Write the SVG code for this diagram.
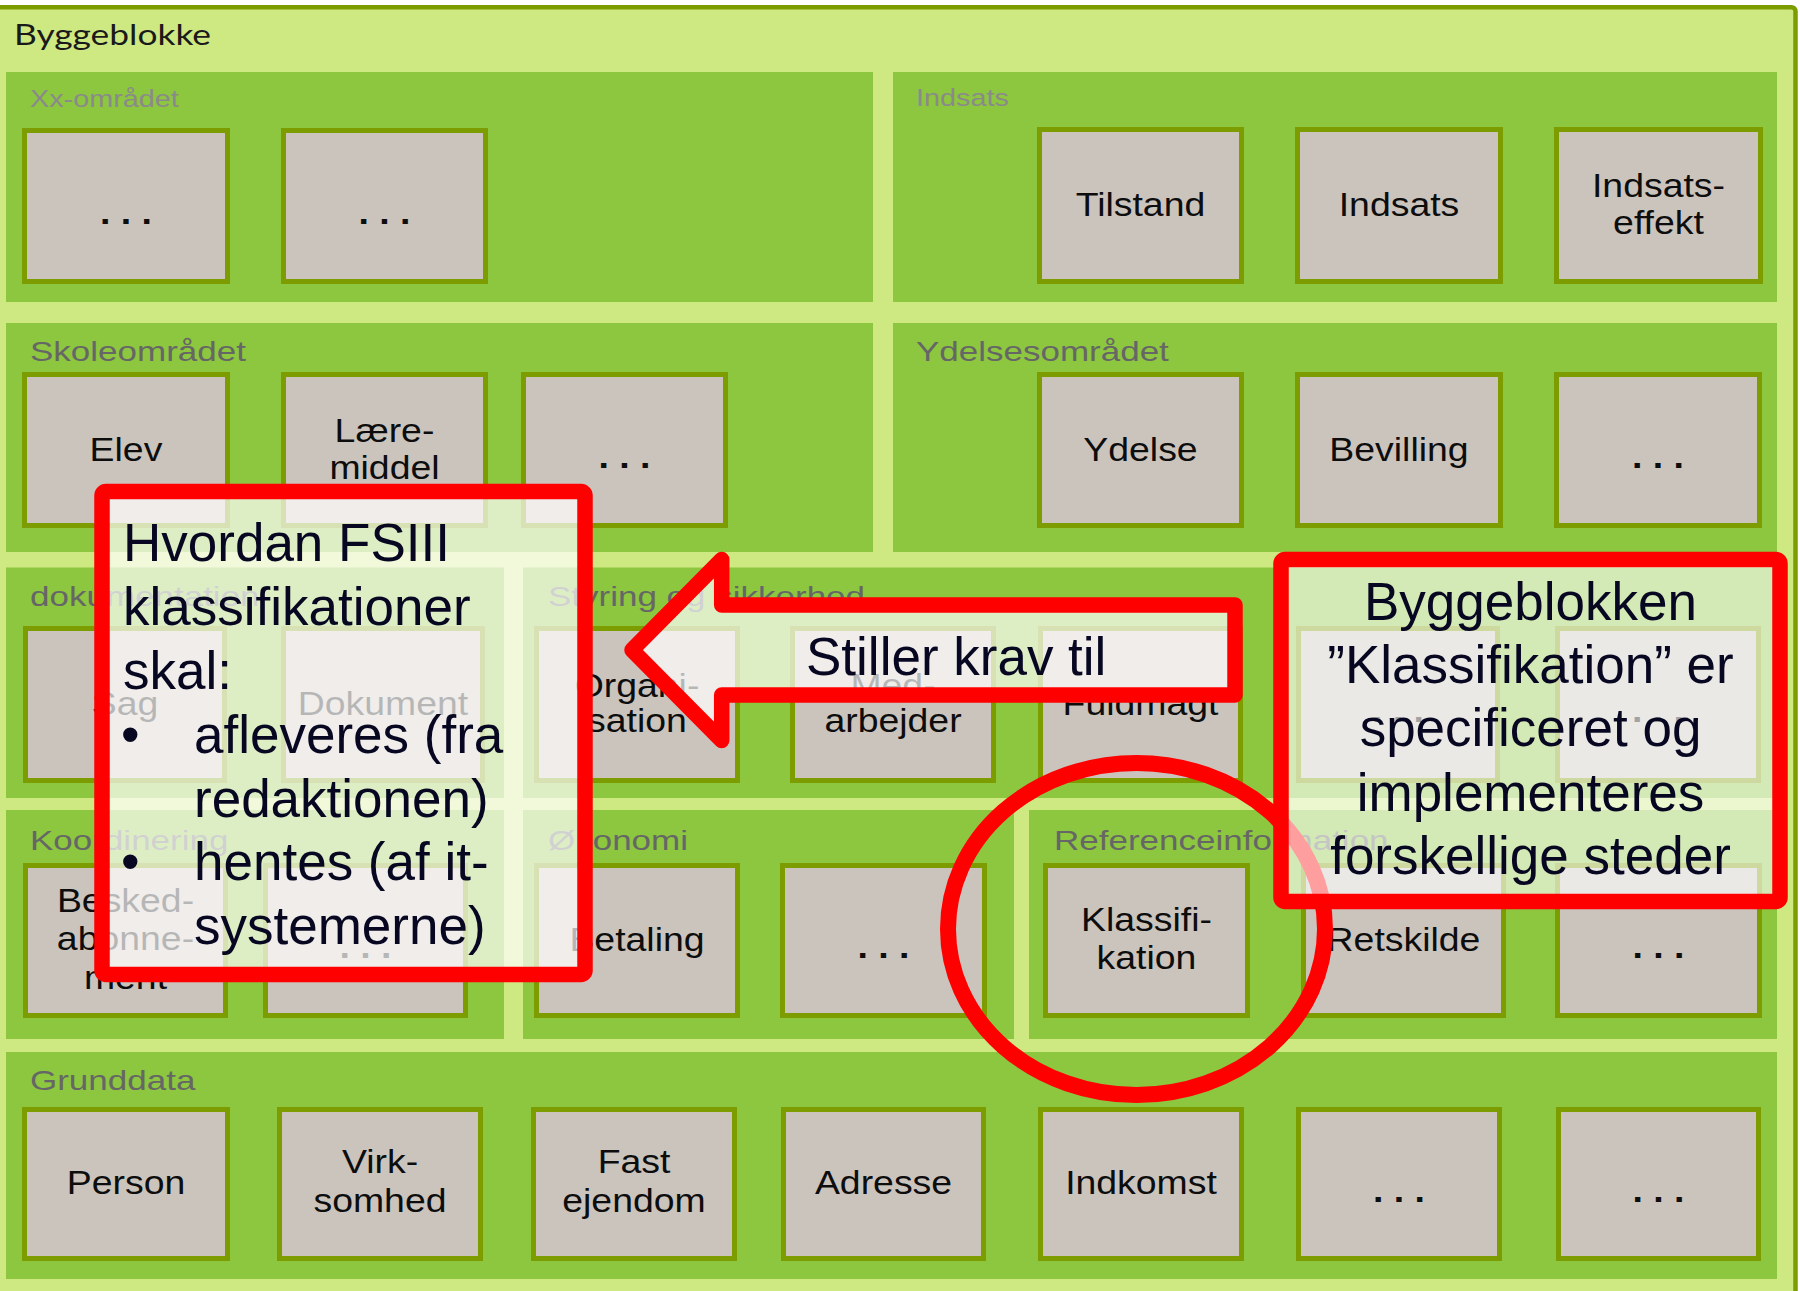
<svg xmlns="http://www.w3.org/2000/svg" width="1800" height="1291" viewBox="0 0 1800 1291">
<style>
.frame{fill:#CFE982;stroke:#7C9C00;stroke-width:4.5}
.panel{fill:#8DC63F}
.box rect{fill:#CBC4BD;stroke:#7C9C00;stroke-width:5}
.lbl{font-family:"Liberation Sans",Arial,sans-serif;font-size:34px;fill:#0d0d0d;text-anchor:middle;transform-box:fill-box;transform-origin:center;transform:scaleX(1.1)}
.dots{font-weight:bold}
.ttl{font-family:"Liberation Sans",Arial,sans-serif;font-size:28px;fill:#666;transform-box:fill-box;transform-origin:left center;transform:scaleX(1.25)}
.ttl.lt{font-size:24px;fill:#8A8A8A;transform:scaleX(1.2)}
.red{fill:#fff;fill-opacity:.7;stroke:#FF0000;stroke-width:15.5;stroke-linejoin:round}
.big{font-family:"Liberation Sans",Arial,sans-serif;font-size:53px;fill:#070722}
</style>
<rect width="1800" height="1291" fill="#fff"/>
<g id="frame-byggeblokke">
<rect class="frame" x="-10" y="7.25" width="1805.5" height="1300" rx="4"/>
<text x="14" y="45" font-family="Lato,'Liberation Sans',sans-serif" font-size="29" fill="#1a1a1a" textLength="197" lengthAdjust="spacingAndGlyphs">Byggeblokke</text>
</g>
<g id="panels">
<g id="p-xx"><rect class="panel" x="6" y="72" width="867" height="230"/><text class="ttl lt" x="30" y="107">Xx-området</text></g>
<g id="p-indsats"><rect class="panel" x="893" y="72" width="884" height="230"/><text class="ttl lt" x="916" y="106">Indsats</text></g>
<g id="p-skole"><rect class="panel" x="6" y="323" width="867" height="229"/><text class="ttl" x="30" y="361">Skoleområdet</text></g>
<g id="p-ydelse"><rect class="panel" x="893" y="323" width="884" height="229"/><text class="ttl" x="916" y="361">Ydelsesområdet</text></g>
<g id="p-dok"><rect class="panel" x="6" y="567.5" width="498" height="230.5"/><text class="ttl" x="30" y="606">dokumentation</text></g>
<g id="p-styring"><rect class="panel" x="523" y="567.5" width="1254" height="230.5"/><text class="ttl" x="548" y="606">Styring og sikkerhed</text></g>
<g id="p-koord"><rect class="panel" x="6" y="810" width="498" height="229"/><text class="ttl" x="30" y="850">Koordinering</text></g>
<g id="p-okonomi"><rect class="panel" x="523" y="810" width="491" height="229"/><text class="ttl" x="548" y="850">Økonomi</text></g>
<g id="p-ref"><rect class="panel" x="1029" y="810" width="748" height="229"/><text class="ttl" x="1054" y="850">Referenceinformation</text></g>
<g id="p-grund"><rect class="panel" x="6" y="1052" width="1771" height="227"/><text class="ttl" x="30" y="1090">Grunddata</text></g>
</g>
<g id="nodes">
<g id="n-xx1" class="box"><rect x="24.5" y="130.5" width="203" height="151"/><text class="lbl dots" x="126" y="224">. . .</text></g>
<g id="n-xx2" class="box"><rect x="283.5" y="130.5" width="202" height="151"/><text class="lbl dots" x="384.5" y="224">. . .</text></g>
<g id="n-tilstand" class="box"><rect x="1039.5" y="129.5" width="202" height="152"/><text class="lbl" x="1140.5" y="216">Tilstand</text></g>
<g id="n-indsats" class="box"><rect x="1297.5" y="129.5" width="203" height="152"/><text class="lbl" x="1399" y="216">Indsats</text></g>
<g id="n-indsatseffekt" class="box"><rect x="1556.5" y="129.5" width="204" height="152"/><text class="lbl" x="1658.5" y="197">Indsats-<tspan x="1658.5" y="234">effekt</tspan></text></g>
<g id="n-elev" class="box"><rect x="24.5" y="374.5" width="203" height="151"/><text class="lbl" x="126" y="461">Elev</text></g>
<g id="n-laeremiddel" class="box"><rect x="283.5" y="374.5" width="202" height="151"/><text class="lbl" x="384.5" y="442">Lære-<tspan x="384.5" y="479">middel</tspan></text></g>
<g id="n-skole3" class="box"><rect x="523.5" y="374.5" width="202" height="151"/><text class="lbl dots" x="624.5" y="468">. . .</text></g>
<g id="n-ydelse" class="box"><rect x="1039.5" y="374.5" width="202" height="151"/><text class="lbl" x="1140.5" y="461">Ydelse</text></g>
<g id="n-bevilling" class="box"><rect x="1297.5" y="374.5" width="203" height="151"/><text class="lbl" x="1399" y="461">Bevilling</text></g>
<g id="n-ydelse3" class="box"><rect x="1556.5" y="374.5" width="203" height="151"/><text class="lbl dots" x="1658" y="468">. . .</text></g>
<g id="n-sag" class="box"><rect x="25.5" y="628.5" width="199" height="152"/><text class="lbl" x="125" y="715">Sag</text></g>
<g id="n-dokument" class="box"><rect x="283.5" y="628.5" width="199" height="152"/><text class="lbl" x="383" y="715">Dokument</text></g>
<g id="n-organisation" class="box"><rect x="536.5" y="628.5" width="201" height="152"/><text class="lbl" x="637" y="697">Organi-<tspan x="637" y="732">sation</tspan></text></g>
<g id="n-medarbejder" class="box"><rect x="792.5" y="628.5" width="201" height="152"/><text class="lbl" x="893" y="697">Med-<tspan x="893" y="732">arbejder</tspan></text></g>
<g id="n-fuldmagt" class="box"><rect x="1040.5" y="628.5" width="200" height="152"/><text class="lbl" x="1140.5" y="715">Fuldmagt</text></g>
<g id="n-styring6" class="box"><rect x="1298.5" y="628.5" width="199" height="152"/><text class="lbl dots" x="1398" y="722">. . .</text></g>
<g id="n-styring7" class="box"><rect x="1557.5" y="628.5" width="201" height="152"/><text class="lbl dots" x="1658" y="722">. . .</text></g>
<g id="n-beskedabonnement" class="box"><rect x="25.5" y="865.5" width="200" height="150"/><text class="lbl" x="125.5" y="912">Besked-<tspan x="125.5" y="950">abonne-</tspan><tspan x="125.5" y="989">ment</tspan></text></g>
<g id="n-koord2" class="box"><rect x="265.5" y="865.5" width="200" height="150"/><text class="lbl dots" x="365.5" y="958">. . .</text></g>
<g id="n-betaling" class="box"><rect x="536.5" y="865.5" width="201" height="150"/><text class="lbl" x="637" y="951">Betaling</text></g>
<g id="n-okonomi2" class="box"><rect x="782.5" y="865.5" width="202" height="150"/><text class="lbl dots" x="883.5" y="958">. . .</text></g>
<g id="n-klassifikation" class="box"><rect x="1045.5" y="865.5" width="202" height="150"/><text class="lbl" x="1146.5" y="931">Klassifi-<tspan x="1146.5" y="969">kation</tspan></text></g>
<g id="n-retskilde" class="box"><rect x="1303.5" y="865.5" width="200" height="150"/><text class="lbl" x="1403.5" y="951">Retskilde</text></g>
<g id="n-ref3" class="box"><rect x="1557.5" y="865.5" width="202" height="150"/><text class="lbl dots" x="1658.5" y="958">. . .</text></g>
<g id="n-person" class="box"><rect x="24.5" y="1109.5" width="203" height="149"/><text class="lbl" x="126" y="1194">Person</text></g>
<g id="n-virksomhed" class="box"><rect x="279.5" y="1109.5" width="201" height="149"/><text class="lbl" x="380" y="1173">Virk-<tspan x="380" y="1212">somhed</tspan></text></g>
<g id="n-fastejendom" class="box"><rect x="533.5" y="1109.5" width="201" height="149"/><text class="lbl" x="634" y="1173">Fast<tspan x="634" y="1212">ejendom</tspan></text></g>
<g id="n-adresse" class="box"><rect x="783.5" y="1109.5" width="200" height="149"/><text class="lbl" x="883.5" y="1194">Adresse</text></g>
<g id="n-indkomst" class="box"><rect x="1040.5" y="1109.5" width="201" height="149"/><text class="lbl" x="1141" y="1194">Indkomst</text></g>
<g id="n-grund6" class="box"><rect x="1298.5" y="1109.5" width="201" height="149"/><text class="lbl dots" x="1399" y="1202">. . .</text></g>
<g id="n-grund7" class="box"><rect x="1558.5" y="1109.5" width="200" height="149"/><text class="lbl dots" x="1658.5" y="1202">. . .</text></g>
</g>
<g id="highlight-klassifikation">
<ellipse cx="1136.5" cy="929" rx="188.5" ry="166" fill="none" stroke="#FF0000" stroke-width="16"/>
</g>
<g id="note-fsiii">
<rect class="red" x="102" y="491.5" width="483" height="483" rx="4"/>
<text class="big" x="123" y="561">Hvordan FSIII</text>
<text class="big" x="123" y="625">klassifikationer</text>
<text class="big" x="123" y="689">skal:</text>
<text class="big" x="121" y="753">•</text>
<text class="big" x="194" y="753">afleveres (fra</text>
<text class="big" x="194" y="817">redaktionen)</text>
<text class="big" x="121" y="880">•</text>
<text class="big" x="194" y="880">hentes (af it-</text>
<text class="big" x="194" y="944">systemerne)</text>
</g>
<g id="connectors">
<g id="arrow-stiller-krav">
<polygon class="red" points="632,650 721.7,559.5 721.7,605 1235,605 1235,695 721.7,695 721.7,740.5"/>
<text class="big" x="806" y="675">Stiller krav til</text>
</g>
</g>
<g id="note-byggeblokken">
<rect class="red" x="1281" y="559.5" width="499" height="342" rx="4" style="fill-opacity:.62"/>
<text class="big" x="1530.5" y="620" text-anchor="middle">Byggeblokken</text>
<text class="big" x="1530.5" y="683" text-anchor="middle">”Klassifikation” er</text>
<text class="big" x="1530.5" y="746" text-anchor="middle">specificeret og</text>
<text class="big" x="1530.5" y="811" text-anchor="middle">implementeres</text>
<text class="big" x="1530.5" y="874" text-anchor="middle">forskellige steder</text>
</g>
</svg>
